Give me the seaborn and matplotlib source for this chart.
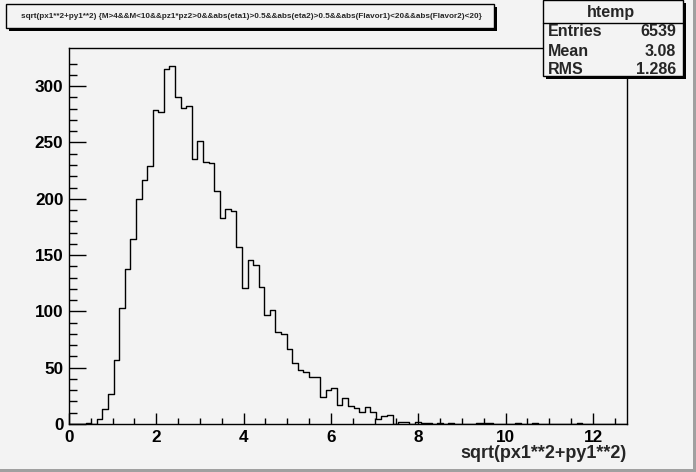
import numpy as np
import pandas as pd
import matplotlib
matplotlib.use("Agg")
import matplotlib.pyplot as plt
import seaborn as sns
from matplotlib.patches import Rectangle

# bin contents (100 bins from 0 to 12.78)
counts = [0, 0, 0, 1, 0, 4, 13, 27, 57, 103,
          138, 164, 200, 217, 229, 279, 277, 315, 318, 290,
          281, 282, 235, 251, 233, 232, 207, 183, 191, 189,
          157, 121, 146, 141, 122, 97, 101, 82, 80, 67,
          54, 48, 46, 42, 42, 24, 30, 32, 17, 23,
          16, 14, 11, 15, 11, 4, 7, 8, 0, 2,
          2, 0, 2, 1, 1, 0, 1, 0, 1, 0,
          0, 0, 0, 1, 1, 1, 0, 0, 0, 0,
          1, 0, 0, 1, 0, 0, 0, 0, 0, 0,
          0, 1, 0, 0, 0, 0, 0, 0, 0, 0]
x_min, x_max, n_bins = 0.0, 12.78, 100
x_ticks = [0, 2, 4, 6, 8, 10, 12]
y_ticks = [0, 50, 100, 150, 200, 250, 300]

title = ("sqrt(px1**2+py1**2) {M>4&&M<10&&pz1*pz2>0&&abs(eta1)>0.5&&abs(eta2)>0.5"
         "&&abs(Flavor1)<20&&abs(Flavor2)<20}")
x_title = "sqrt(px1**2+py1**2)"
stats_name = "htemp"
stats_rows = [("Entries", "6539"), ("Mean", "3.08"), ("RMS", "1.286")]

bg = "#f3f3f3"
sns.set_style("ticks")
plt.rcParams["font.family"] = ["Liberation Sans", "DejaVu Sans"]
plt.rcParams["font.weight"] = "bold"

W, H = 696, 472
fig = plt.figure(figsize=(W / 100, H / 100), dpi=100, facecolor=bg)

def fx(px):
    return px / W

def fy(py):
    return 1 - py / H

# frame: left 69, right 627, top 48, bottom 424
ax = fig.add_axes([fx(69), fy(424), fx(627) - fx(69), (424 - 48) / H])
ax.set_facecolor(bg)

bw = (x_max - x_min) / n_bins
df = pd.DataFrame({"x": x_min + bw * (np.arange(n_bins) + 0.5), "n": counts})
sns.histplot(data=df, x="x", weights="n", bins=n_bins, binrange=(x_min, x_max),
             element="step", fill=False, color="black", linewidth=1.0, ax=ax)

ax.set_xlim(x_min, x_max)
ax.set_ylim(0, 1.05 * max(counts))
ax.set_xticks(x_ticks)
ax.set_yticks(y_ticks)
ax.set_xticks(np.arange(0, 12.6, 0.5), minor=True)
ax.set_yticks(np.arange(0, 330, 10), minor=True)
ax.set_xlabel("")
ax.set_ylabel("")
for s in ax.spines.values():
    s.set_color("black")
    s.set_linewidth(1.0)
ax.tick_params(axis="both", which="both", direction="in", colors="black",
               labelsize=12.3)
ax.tick_params(axis="x", which="major", length=8, width=1, pad=4)
ax.tick_params(axis="x", which="minor", length=4, width=1)
ax.tick_params(axis="y", which="major", length=12, width=1, pad=4)
ax.tick_params(axis="y", which="minor", length=6, width=1)
for lab in ax.get_xticklabels() + ax.get_yticklabels():
    lab.set_fontweight("bold")

fig.text(fx(627), fy(454), x_title, ha="right", va="center",
         fontsize=13, fontweight="bold")

# boxes with drop shadow
def shadow_box(x0, y0, x1, y1, d=3):
    fig.add_artist(Rectangle((fx(x0 + d), fy(y1 + d)), fx(x1 - x0), (y1 - y0) / H,
                             transform=fig.transFigure, facecolor="black",
                             edgecolor="black", lw=0))
    fig.add_artist(Rectangle((fx(x0), fy(y1)), fx(x1 - x0), (y1 - y0) / H,
                             transform=fig.transFigure, facecolor=bg,
                             edgecolor="black", lw=1.0))

shadow_box(6, 4, 494, 28)
fig.text(fx(251), fy(16), title, ha="center", va="center", fontsize=5.85,
         fontweight="bold")

# stats box
shadow_box(543, 0, 683, 76)
fig.add_artist(plt.Line2D([fx(543), fx(683)], [fy(23), fy(23)],
                          transform=fig.transFigure, color="black", lw=1.0))
fig.text(fx(611), fy(12), stats_name, ha="center", va="center",
         fontsize=11.5, fontweight="bold")
for i, (k, v) in enumerate(stats_rows):
    yy = fy(32 + 19 * i)
    fig.text(fx(548), yy, k, ha="left", va="center", fontsize=11.5, fontweight="bold")
    fig.text(fx(676), yy, v, ha="right", va="center", fontsize=11.5, fontweight="bold")

# canvas bevel border (right and bottom)
fig.add_artist(Rectangle((fx(693), 0), fx(3), 1, transform=fig.transFigure,
                         facecolor="#a0a0a0", lw=0))
fig.add_artist(Rectangle((0, 0), 1, 3 / H, transform=fig.transFigure,
                         facecolor="#a0a0a0", lw=0))

fig.savefig("out.png", dpi=100, facecolor=bg)
